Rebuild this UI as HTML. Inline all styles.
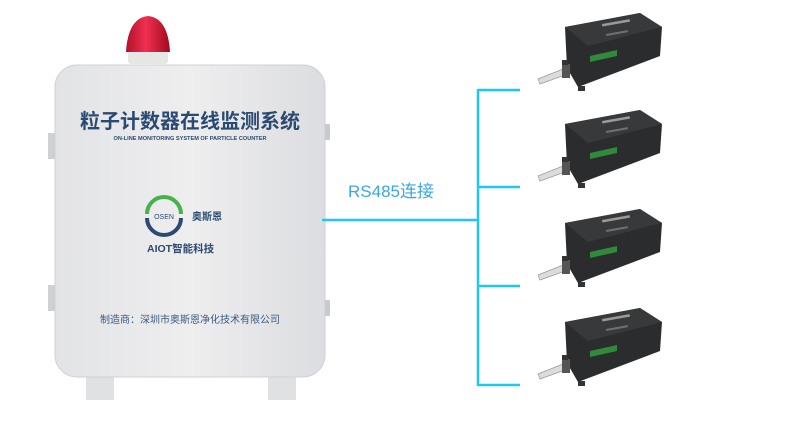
<!DOCTYPE html>
<html><head><meta charset="utf-8"><style>
html,body{margin:0;padding:0;background:#fff;}
body{width:800px;height:425px;overflow:hidden;}
</style></head><body>
<svg width="800" height="425" viewBox="0 0 800 425" xmlns="http://www.w3.org/2000/svg">
<defs>
<linearGradient id="lamp" x1="0" x2="1"><stop offset="0" stop-color="#b0102a"/><stop offset="0.45" stop-color="#f03050"/><stop offset="1" stop-color="#a00a20"/></linearGradient>
<linearGradient id="cab" x1="0" x2="1"><stop offset="0" stop-color="#e2e3e5"/><stop offset="0.5" stop-color="#eeeeef"/><stop offset="1" stop-color="#dcdde0"/></linearGradient>
<g id="sensor">
<polygon points="-1,11 74,-3 96,11 94,40 12,71 1,52" fill="#2b2c2e"/>
<polygon points="-1,11 74,-3 96,11 22,30" fill="#38393b"/>
<rect x="36" y="8" width="28" height="2.5" fill="#9a9a9a" transform="rotate(-10 36 8)"/>
<rect x="40" y="18" width="22" height="2" fill="#707070" transform="rotate(-10 40 18)"/>
<polygon points="24,40 51,34 51,40 24,46" fill="#2f8a3a"/>
<polygon points="-28,63 -3,53 -1,59 -26,68" fill="#dcdcdc" stroke="#999" stroke-width="0.7"/>
<rect x="-4" y="48" width="8" height="14" fill="#555"/>
<rect x="12" y="70" width="7" height="5" fill="#333"/>
<rect x="-4" y="44" width="6" height="5" fill="#333"/>
</g>
</defs>
<rect x="128" y="48" width="40" height="16" rx="3" fill="#e6e6e2"/>
<path d="M126,52 Q128,18 148,16 Q168,18 170,52 Z" fill="url(#lamp)"/>
<rect x="48" y="133" width="8" height="26" fill="#cfd0d2"/>
<rect x="48" y="285" width="8" height="26" fill="#cfd0d2"/>
<rect x="322" y="124" width="8" height="16" fill="#c8c9cb"/>
<rect x="322" y="300" width="8" height="16" fill="#c8c9cb"/>
<rect x="86" y="370" width="28" height="30" fill="#e0e1e3"/>
<rect x="268" y="370" width="28" height="30" fill="#e0e1e3"/>
<rect x="55" y="65" width="270" height="312" rx="22" fill="url(#cab)" stroke="#d0d1d4"/>
<text x="190" y="128" text-anchor="middle" font-family="Liberation Sans,Noto Sans CJK SC,sans-serif" font-weight="bold" font-size="20" fill="#2a4a72">粒子计数器在线监测系统</text>
<text x="190" y="140" text-anchor="middle" font-family="Liberation Sans,sans-serif" font-weight="bold" font-size="5.6" fill="#2a4a72">ON-LINE MONITORING SYSTEM OF PARTICLE COUNTER</text>
<path d="M147,214 A16,16 0 0 1 181,214" fill="none" stroke="#46b24a" stroke-width="4"/>
<path d="M147,218 A16,16 0 0 0 181,218" fill="none" stroke="#2a4a72" stroke-width="4"/>
<text x="164" y="219" text-anchor="middle" font-family="Liberation Sans,sans-serif" font-size="7" fill="#2a4a72">OSEN</text>
<text x="192" y="220" font-family="Liberation Sans,Noto Sans CJK SC,sans-serif" font-weight="bold" font-size="10" fill="#2a4a72">奥斯恩</text>
<text x="147" y="252" font-family="Liberation Sans,Noto Sans CJK SC,sans-serif" font-weight="bold" font-size="10.5" fill="#2a4a72">AIOT智能科技</text>
<text x="190" y="323" text-anchor="middle" font-family="Liberation Sans,Noto Sans CJK SC,sans-serif" font-size="10" fill="#3a5a80">制造商：深圳市奥斯恩净化技术有限公司</text>
<g stroke="#1fc8ee" stroke-width="2.5" fill="none">
<line x1="322" y1="220" x2="479" y2="220"/>
<line x1="478" y1="89" x2="478" y2="386"/>
<line x1="478" y1="90" x2="520" y2="90"/>
<line x1="478" y1="187" x2="520" y2="187"/>
<line x1="478" y1="286" x2="520" y2="286"/>
<line x1="478" y1="385" x2="520" y2="385"/>
</g>
<text x="348" y="197" font-family="Liberation Sans,Noto Sans CJK SC,sans-serif" font-size="17" fill="#3aa6e6">RS485连接</text>
<use href="#sensor" x="566" y="16"/>
<use href="#sensor" x="566" y="113"/>
<use href="#sensor" x="566" y="212"/>
<use href="#sensor" x="566" y="311"/>
</svg>
</body></html>
